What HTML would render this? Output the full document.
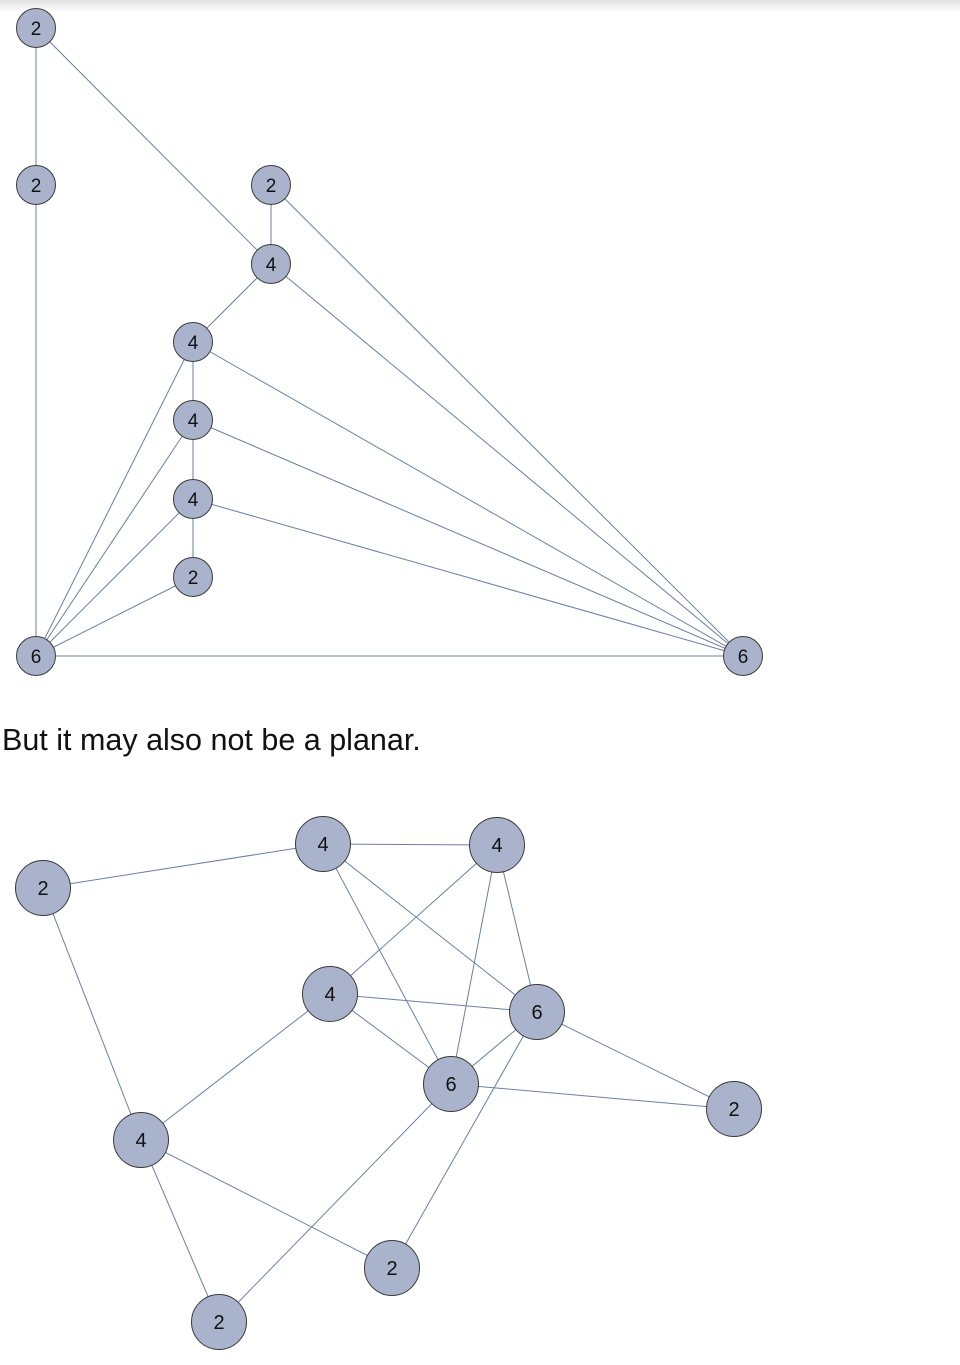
<!DOCTYPE html>
<html><head><meta charset="utf-8"><style>
body{margin:0;width:960px;height:1365px;background:#fff;position:relative;overflow:hidden;font-family:"Liberation Sans",sans-serif}
#shadow{position:absolute;left:0;top:0;width:960px;height:12px;background:linear-gradient(#e2e2e2,#fff)}
#caption{position:absolute;left:2px;top:723px;font-size:30.5px;color:#111;white-space:nowrap}
svg{position:absolute;left:0;top:0}
</style></head><body>
<div id="shadow"></div>
<svg id="g" width="960" height="1365"></svg>
<div id="caption">But it may also not be a planar.</div>
<script>
const ns="http://www.w3.org/2000/svg";
const svg=document.getElementById('g');
const topNodes=[["A",36,28,2],["B",36,185,2],["C",271,185,2],["D",271,264,4],["E",193,342,4],["F",193,420,4],["G",193,499,4],["H",193,577,2],["I",36,656,6],["J",743,656,6]];
const topEdges=[["A","B"],["A","D"],["B","I"],["C","D"],["C","J"],["D","E"],["D","J"],["E","F"],["E","I"],["E","J"],["F","G"],["F","I"],["F","J"],["G","H"],["G","I"],["G","J"],["H","I"],["I","J"]];
const botNodes=[["a",43,888,2],["b",323,844,4],["c",497,845,4],["d",330,994,4],["e",537,1012,6],["f",451,1084,6],["g",734,1109,2],["h",141,1140,4],["i",392,1268,2],["j",219,1322,2]];
const botEdges=[["a","b"],["a","h"],["b","c"],["b","f"],["b","e"],["c","d"],["c","f"],["c","e"],["d","e"],["d","f"],["d","h"],["e","f"],["e","g"],["e","i"],["f","g"],["f","j"],["h","i"],["h","j"]];
function draw(nodes,edges,r,fs,prefix){
  const m={};nodes.forEach(n=>m[n[0]]=n);
  edges.forEach(e=>{
    const a=m[e[0]],b=m[e[1]];
    const l=document.createElementNS(ns,'line');
    
    
    l.setAttribute('x1',a[1]);l.setAttribute('y1',a[2]);l.setAttribute('x2',b[1]);l.setAttribute('y2',b[2]);
    l.setAttribute('stroke','#6b7fa6');l.setAttribute('stroke-width','1');
    svg.appendChild(l);
  });
  nodes.forEach(n=>{
    const c=document.createElementNS(ns,'circle');
    
    
    c.setAttribute('cx',n[1]);c.setAttribute('cy',n[2]);c.setAttribute('r',r);
    c.setAttribute('fill','#a9b4cc');c.setAttribute('stroke','#3a3a3a');c.setAttribute('stroke-width','1');
    svg.appendChild(c);
    const t=document.createElementNS(ns,'text');
    
    
    t.setAttribute('x',n[1]);t.setAttribute('y',n[2]+fs*0.36);
    t.setAttribute('text-anchor','middle');t.setAttribute('font-size',fs);
    t.setAttribute('font-family','Liberation Sans, sans-serif');t.setAttribute('fill','#111');
    t.textContent=n[3];
    svg.appendChild(t);
  });
}
draw(topNodes,topEdges,19.5,19,'top-graph');
draw(botNodes,botEdges,27.5,20,'bottom-graph');
</script>
</body></html>
